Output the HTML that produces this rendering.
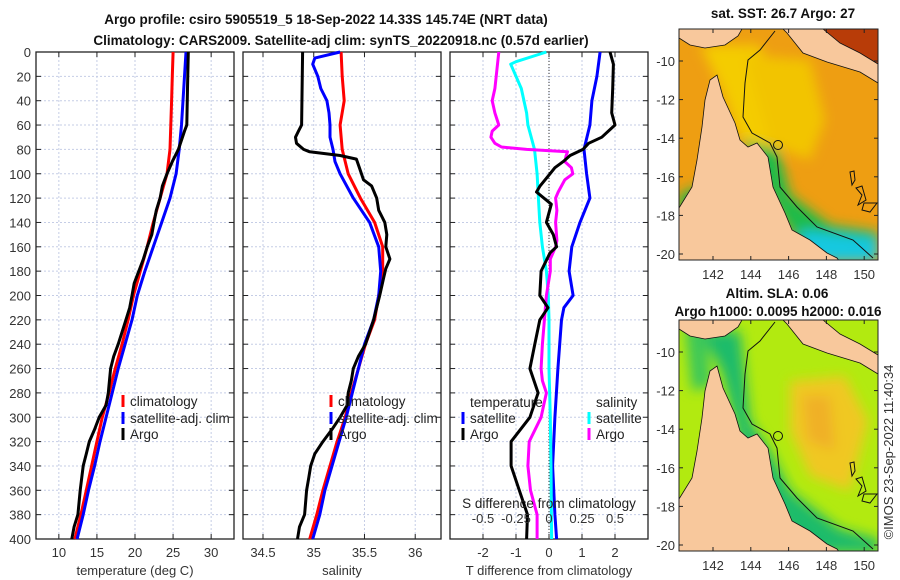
<!DOCTYPE html>
<html><head><meta charset="utf-8"><style>
html,body{margin:0;padding:0;background:#fff;}
svg{display:block;font-family:"Liberation Sans","DejaVu Sans",sans-serif;}
.tk{font-size:13px;fill:#333;}
.tt{font-size:13.5px;font-weight:bold;fill:#111;}
.lg{font-size:13.5px;fill:#222;}
</style></head><body>
<svg id="chart" width="900" height="580" viewBox="0 0 900 580">
<text class="tt" x="326" y="24" text-anchor="middle">Argo profile: csiro 5905519_5 18-Sep-2022 14.33S 145.74E (NRT data)</text>
<text class="tt" x="341" y="45" text-anchor="middle">Climatology: CARS2009. Satellite-adj clim: synTS_20220918.nc (0.57d earlier)</text>
<g id="p1"></g>
<g id="p2"></g>
<g id="p3"></g>
<g id="maps"></g>
<text class="tk" transform="translate(893,452) rotate(-90)" text-anchor="middle">©IMOS 23-Sep-2022 11:40:34</text>
</svg>
<script>
// ---- data ----
const depthTicks=[0,20,40,60,80,100,120,140,160,180,200,220,240,260,280,300,320,340,360,380,400];
const tTicks=[10,15,20,25,30];
const sTicks=[34.5,35,35.5,36];
const dTTicks=[-2,-1,0,1,2];
const dSTicks=[-0.5,-0.25,0,0.25,0.5];
const dSTickLabels=["-0.5","-0.25","0","0.25","0.5"];
const lonTicks=[142,144,146,148,150];
const latTicks=[-10,-12,-14,-16,-18,-20];

const depStd=[0,20,40,60,80,100,120,140,160,180,200,220,240,260,280,300,320,340,360,380,400];
const tempClim=[25.0,24.9,24.8,24.7,24.6,24.2,23.3,22.4,21.6,20.7,19.8,19.1,18.3,17.4,16.6,15.7,15.0,14.3,13.6,12.9,12.1];
const tempSat=[26.7,26.5,26.3,26.1,25.8,25.4,24.6,23.5,22.4,21.3,20.3,19.6,18.7,17.8,17.0,16.2,15.4,14.7,13.9,13.2,12.4];
const depArgoT=[0,30,60,65,80,90,100,110,120,130,140,150,160,170,180,190,200,210,220,240,250,260,280,290,300,310,320,330,340,360,380,390,400];
const tempArgo=[27.0,26.9,26.8,26.5,25.7,24.9,24.2,23.6,23.3,22.8,22.5,22.2,21.6,21.1,20.5,19.9,19.6,19.3,18.8,17.8,17.2,16.8,16.5,16.2,15.3,14.7,14.0,13.6,13.2,12.8,12.5,12.0,11.7];

const salClim=[35.27,35.28,35.30,35.26,35.28,35.34,35.46,35.60,35.68,35.68,35.64,35.60,35.51,35.44,35.37,35.31,35.23,35.16,35.09,35.03,34.96];
const depSalSat=[0,5,10,20,30,40,50,60,70,80,90,100,120,140,160,180,200,220,240,260,280,300,320,340,360,380,400];
const salSat=[35.26,35.01,34.99,35.04,35.07,35.13,35.15,35.16,35.16,35.19,35.21,35.26,35.39,35.55,35.64,35.66,35.64,35.59,35.50,35.44,35.38,35.32,35.25,35.18,35.11,35.06,34.99];
const depArgoS=[0,60,65,70,75,80,82,85,88,95,105,110,120,130,140,150,160,170,178,185,200,220,240,250,260,270,280,290,300,310,320,330,340,350,360,380,390,400];
const salArgo=[34.89,34.88,34.85,34.82,34.83,34.90,34.96,35.26,35.42,35.45,35.49,35.57,35.62,35.64,35.70,35.72,35.71,35.75,35.71,35.69,35.65,35.59,35.51,35.44,35.39,35.37,35.34,35.33,35.26,35.18,35.09,35.01,34.97,34.95,34.93,34.91,34.86,34.84];

const depDTs=[0,20,40,60,80,100,120,140,160,180,200,210,220,260,300,340,380,400];
const dTSat=[1.55,1.45,1.30,1.24,1.06,1.14,1.24,0.94,0.69,0.61,0.73,0.45,0.38,0.27,0.18,0.11,0.18,0.23];
const depDTa=[0,10,30,50,60,70,75,80,85,90,95,100,110,115,125,140,150,160,165,180,200,210,220,240,260,280,300,320,340,360,380,400];
const dTArgo=[1.85,1.95,1.93,1.90,2.0,1.6,1.2,1.03,0.64,0.43,0.18,0.03,-0.27,-0.38,0.07,-0.08,0.13,0.23,0.03,-0.24,-0.28,-0.03,-0.28,-0.43,-0.58,-0.33,-0.58,-1.15,-1.15,-0.9,-0.65,-0.68];
const depDSs=[0,8,10,15,30,50,60,80,100,120,140,160,180,200,220,260,300,340,400];
const dSSat=[-0.02,-0.25,-0.29,-0.27,-0.21,-0.17,-0.16,-0.11,-0.09,-0.08,-0.07,-0.05,-0.02,-0.005,0.0,0.0,0.01,0.015,0.02];
const depDSa=[0,30,40,50,60,65,70,75,78,80,82,85,90,95,100,105,115,120,130,140,155,160,170,180,200,240,260,270,280,290,300,320,340,360,380,400];
const dSArgo=[-0.38,-0.41,-0.43,-0.41,-0.38,-0.43,-0.44,-0.41,-0.36,-0.17,0.14,0.13,0.12,0.17,0.18,0.12,0.07,0.05,0.06,0.05,0.06,0.05,0.01,0.01,-0.02,-0.05,-0.06,-0.05,-0.02,-0.04,-0.06,-0.15,-0.16,-0.14,-0.09,-0.09];

// ---- helpers ----
const NS="http://www.w3.org/2000/svg";
function mk(tag,attrs,parent){const e=document.createElementNS(NS,tag);for(const k in attrs)e.setAttribute(k,attrs[k]);parent.appendChild(e);return e;}
const Y0=52,Y1=539;
const yD=d=>Y0+(d/400)*(Y1-Y0);
function panel(g,x0,x1,xmin,xmax,ticks,labels,xlab,nameBase){
  const sx=v=>x0+(v-xmin)/(xmax-xmin)*(x1-x0);
  depthTicks.forEach(d=>{
    const l=mk('line',{x1:x0,x2:x1,y1:yD(d),y2:yD(d),stroke:'#c5cde6','stroke-width':1,'stroke-dasharray':'2,2'},g);
    
    
    mk('line',{x1:x0,x2:x0+5,y1:yD(d),y2:yD(d),stroke:'#222'},g);
    mk('line',{x1:x1-5,x2:x1,y1:yD(d),y2:yD(d),stroke:'#222'},g);
  });
  ticks.forEach((v,i)=>{
    const X=sx(v);
    const l=mk('line',{x1:X,x2:X,y1:Y0,y2:Y1,stroke:'#c5cde6','stroke-width':1,'stroke-dasharray':'2,2'},g);
    
    
    mk('line',{x1:X,x2:X,y1:Y1-5,y2:Y1,stroke:'#222'},g);
    mk('line',{x1:X,x2:X,y1:Y0,y2:Y0+5,stroke:'#222'},g);
    if(labels){const t=mk('text',{x:X,y:Y1+18,class:'tk','text-anchor':'middle'},g);t.textContent=labels[i];
      
      }
  });
  const r=mk('rect',{x:x0,y:Y0,width:x1-x0,height:Y1-Y0,fill:'none',stroke:'#222','stroke-width':1.3},g);
  
  
  const t=mk('text',{x:(x0+x1)/2,y:Y1+36,class:'tk','text-anchor':'middle','font-size':'13.5px'},g);t.textContent=xlab;
  
  
  return sx;
}
function line(g,sx,deps,vals,color,name){
  const d=deps.map((dp,i)=>(i?'L':'M')+sx(vals[i]).toFixed(1)+','+yD(dp).toFixed(1)).join('');
  const p=mk('path',{d:d,fill:'none',stroke:color,'stroke-width':3,'stroke-linejoin':'round'},g);
  
  
}
function legend(g,x,y,color,label,name){
  mk('rect',{x:x-1.5,y:y-6,width:3,height:12,fill:color},g);
  const t=mk('text',{x:x+7,y:y+5,class:'lg'},g);t.textContent=label;
  
  
}
const p1=document.getElementById('p1'),p2=document.getElementById('p2'),p3=document.getElementById('p3');
depthTicks.forEach(d=>{const t=mk('text',{x:31,y:yD(d)+5,class:'tk','text-anchor':'end'},p1);t.textContent=d;
  
  });

const sx1=panel(p1,36,234,7,33,tTicks,tTicks.map(String),'temperature (deg C)','temperature');
line(p1,sx1,depStd,tempClim,'#f00','temperature-climatology-line');
line(p1,sx1,depStd,tempSat,'#00f','temperature-satellite-line');
line(p1,sx1,depArgoT,tempArgo,'#000','temperature-argo-line');
legend(p1,123,401,'#f00','climatology','legend-climatology');
legend(p1,123,418,'#00f','satellite-adj. clim','legend-satellite-adj');
legend(p1,123,434,'#000','Argo','legend-argo');

const sx2=panel(p2,243,441,34.303,36.254,sTicks,["34.5","35","35.5","36"],'salinity','salinity');
line(p2,sx2,depStd,salClim,'#f00','salinity-climatology-line');
line(p2,sx2,depSalSat,salSat,'#00f','salinity-satellite-line');
line(p2,sx2,depArgoS,salArgo,'#000','salinity-argo-line');
legend(p2,331,401,'#f00','climatology','legend-climatology');
legend(p2,331,418,'#00f','satellite-adj. clim','legend-satellite-adj');
legend(p2,331,434,'#000','Argo','legend-argo');

const sxT=panel(p3,450,648,-3,3,dTTicks,dTTicks.map(String),'T difference from climatology','t-difference');
const sxS=v=>sxT(v*4);
mk('line',{x1:sxT(0),x2:sxT(0),y1:Y0,y2:Y1,stroke:'#333','stroke-width':1,'stroke-dasharray':'1,2'},p3);
line(p3,sxT,depDTs,dTSat,'#00f','t-diff-satellite-line');
line(p3,sxS,depDSs,dSSat,'#0ff','s-diff-satellite-line');
line(p3,sxS,depDSa,dSArgo,'#f0f','s-diff-argo-line');
line(p3,sxT,depDTa,dTArgo,'#000','t-diff-argo-line');
{const t=mk('text',{x:470,y:407,class:'lg'},p3);t.textContent='temperature';


const s=mk('text',{x:596,y:407,class:'lg'},p3);s.textContent='salinity';

}
legend(p3,463,418,'#00f','satellite','legend-t-satellite');
legend(p3,463,434,'#000','Argo','legend-t-argo');
legend(p3,589,418,'#0ff','satellite','legend-s-satellite');
legend(p3,589,434,'#f0f','Argo','legend-s-argo');
{const t=mk('text',{x:549,y:508,class:'lg','text-anchor':'middle'},p3);t.textContent='S difference from climatology';

}
dSTicks.forEach((v,i)=>{const t=mk('text',{x:sxS(v),y:523,class:'tk','text-anchor':'middle'},p3);t.textContent=dSTickLabels[i];
  
  });

// ---- maps ----
const maps=document.getElementById('maps');
const lonX=lo=>713+(lo-142)*18.9;
function map(y0,h,yLat10,base,blobs,sharp,title,name){
  const g=mk('g',{},maps);
  
  
  const id='c'+y0;
  const cp=mk('clipPath',{id:id},g);mk('rect',{x:679,y:y0,width:199,height:h},cp);
  const f=mk('filter',{id:'b'+y0,x:'-20%',y:'-20%',width:'140%',height:'140%'},g);mk('feGaussianBlur',{stdDeviation:6},f);
  const inner=mk('g',{'clip-path':'url(#'+id+')'},g);
  const off=y0-29;
  mk('rect',{x:679,y:y0,width:199,height:h,fill:base},inner);
  const bg=mk('g',{filter:'url(#b'+y0+')'},inner);
  blobs.forEach(b=>mk('polygon',{points:b[0].map(p=>p[0]+','+(p[1]+off)).join(' '),fill:b[1]},bg));
  sharp.forEach(b=>mk('polygon',{points:b[0].map(p=>p[0]+','+(p[1]+off)).join(' '),fill:b[1]},inner));
  const land=[
   [[679,29],[742,29],[738,36],[725,45],[705,48],[690,45],[679,38]],
   [[717,75],[723,97],[735,123],[740,140],[748,147],[757,143],[768,157],[773,187],[785,213],[792,230],[810,240],[827,253],[837,258],[840,262],[679,262],[679,208],[692,187],[697,160],[702,127],[705,100],[710,80]],
   [[783,29],[823,29],[840,43],[860,53],[878,64],[878,83],[860,72],[827,62],[803,53],[787,33]]
  ];
  land.forEach(L=>mk('polygon',{points:L.map(p=>p[0]+','+(p[1]+off)).join(' '),fill:'#f8c89c',stroke:'#111','stroke-width':0.8},inner));
  const iso=[[775,31],[760,50],[748,60],[745,83],[743,117],[752,133],[770,143],[777,157],[780,187],[797,207],[817,227],[853,240],[873,258]];
  mk('polyline',{points:iso.map(p=>p[0]+','+(p[1]+off)).join(' '),fill:'none',stroke:'#111','stroke-width':1},inner);
  [[[850,172],[854,171],[855,180],[852,185]],[[856,188],[862,186],[866,200],[858,205],[862,195]],[[864,203],[877,203],[870,212],[862,210]]].forEach(I=>
    mk('polygon',{points:I.map(p=>p[0]+','+(p[1]+off)).join(' '),fill:'none',stroke:'#111','stroke-width':1},inner));
  const c=mk('circle',{cx:778,cy:145+off,r:4.5,fill:'none',stroke:'#111','stroke-width':1},g);
  
  
  mk('rect',{x:679,y:y0,width:199,height:h,fill:'none',stroke:'#222','stroke-width':1},g);
  lonTicks.forEach(lo=>{const X=lonX(lo);mk('line',{x1:X,x2:X,y1:y0+h-4,y2:y0+h,stroke:'#222'},g);mk('line',{x1:X,x2:X,y1:y0,y2:y0+4,stroke:'#222'},g);
    const t=mk('text',{x:X,y:y0+h+19,class:'tk','text-anchor':'middle'},g);t.textContent=lo;
    
    });
  latTicks.forEach(la=>{const Y=yLat10+(-10-la)*19.3;mk('line',{x1:679,x2:683,y1:Y,y2:Y,stroke:'#222'},g);mk('line',{x1:874,x2:878,y1:Y,y2:Y,stroke:'#222'},g);
    const t=mk('text',{x:675,y:Y+5,class:'tk','text-anchor':'end'},g);t.textContent=la;
    
    });
  title.forEach(tx=>{const t=mk('text',{x:tx[1],y:tx[2],class:'tt','text-anchor':'middle'},g);t.textContent=tx[0];
    
    });
}
map(29,231,61,'#ee9e12',[
  [[[700,45],[760,45],[772,80],[775,140],[760,150],[740,140],[722,90]],'#f4cc00'],
  [[[745,55],[810,60],[825,120],[810,160],[770,145]],'#f2c400'],
  [[[679,195],[700,185],[700,262],[679,262]],'#22b84a'],
  [[[742,140],[778,150],[790,195],[830,225],[878,232],[878,262],[810,262],[780,215]],'#1dbb48'],
  [[[800,230],[878,238],[878,262],[805,262]],'#18c8e0']
],[
  [[[823,29],[878,29],[878,64],[860,53],[840,43]],'#b83c08']
],[['sat. SST: 26.7 Argo: 27',783,18]],'sst-map');
map(320,231,352,'#b2ea10',[
  [[[790,90],[845,85],[868,130],[850,200],[810,185],[790,140]],'#f0c820'],
  [[[803,105],[830,105],[835,160],[808,150]],'#f0b028'],
  [[[700,40],[740,40],[750,130],[770,160],[790,200],[840,238],[878,248],[878,262],[800,262],[770,210],[740,150],[722,80]],'#1dbb6a'],
  [[[685,35],[705,35],[712,95],[692,100]],'#3ec858']
],[],[['Altim. SLA: 0.06',777,298],['Argo h1000: 0.0095 h2000: 0.016',778,316]],'sla-map');
</script>
</body></html>
